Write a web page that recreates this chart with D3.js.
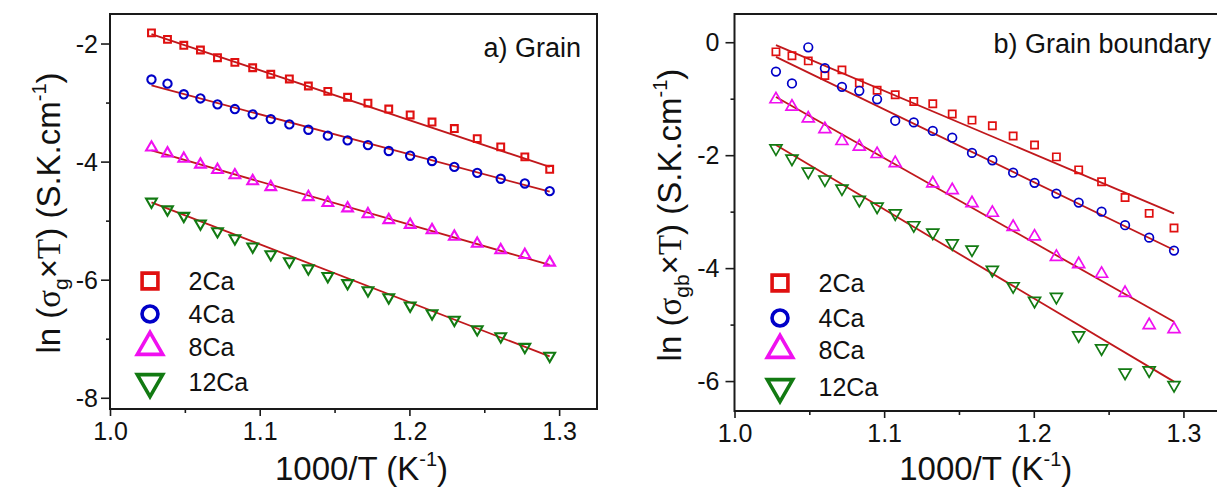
<!DOCTYPE html>
<html>
<head>
<meta charset="utf-8">
<script src="https://cdn.jsdelivr.net/npm/d3@7"></script>
<style>
  body { margin: 0; background: #fff; }
  svg text { font-family: "Liberation Sans", Arial, sans-serif; fill: #111; }
</style>
</head>
<body>
<svg id="chart" width="1217" height="488"></svg>
<script>
// 1000/T values (K^-1), shared by both panels
const invT = [1.0277, 1.0384, 1.0493, 1.0604, 1.0718, 1.0834, 1.0953, 1.1074, 1.1198, 1.1325, 1.1455,
              1.1587, 1.1723, 1.1862, 1.2005, 1.2151, 1.2300, 1.2453, 1.2610, 1.2771, 1.2937];

const seriesNames = ['2Ca', '4Ca', '8Ca', '12Ca'];

// a) Grain
const grain2Ca  = [-1.82, -1.93, -2.03, -2.11, -2.24, -2.32, -2.41, -2.52, -2.60, -2.72, -2.81,
                   -2.91, -3.01, -3.11, -3.21, -3.33, -3.44, -3.61, -3.75, -3.92, -4.13];
const grain4Ca  = [-2.61, -2.68, -2.86, -2.93, -3.03, -3.11, -3.20, -3.28, -3.37, -3.46, -3.56,
                   -3.64, -3.72, -3.82, -3.90, -3.99, -4.09, -4.19, -4.29, -4.37, -4.50];
const grain8Ca  = [-3.76, -3.86, -3.95, -4.05, -4.14, -4.23, -4.33, -4.43, null, -4.60, -4.70,
                   -4.79, -4.89, -4.99, -5.07, -5.16, -5.27, -5.39, -5.50, -5.58, -5.71];
const grain12Ca = [-4.68, -4.81, -4.92, -5.05, -5.18, -5.30, -5.44, -5.57, -5.69, -5.81, -5.94,
                   -6.06, -6.18, -6.30, -6.44, -6.57, -6.68, -6.84, -6.96, -7.14, -7.29];
const grainFitStart = [-1.84, -2.71, -3.81, -4.69];
const grainFitEnd   = [-4.09, -4.51, -5.75, -7.30];

// b) Grain boundary
const gb2Ca  = [-0.17, -0.24, -0.33, -0.59, -0.49, -0.72, -0.85, -0.93, -1.05, -1.09, -1.27,
                -1.38, -1.48, -1.66, -1.82, -2.03, -2.26, -2.47, -2.75, -3.03, -3.29];
const gb4Ca  = [-0.52, -0.73, -0.09, -0.46, -0.79, -0.86, -1.01, -1.39, -1.42, -1.57, -1.69,
                -1.96, -2.09, -2.31, -2.49, -2.68, -2.84, -3.00, -3.24, -3.46, -3.69];
const gb8Ca  = [-1.01, -1.14, -1.35, -1.54, -1.75, -1.85, -1.98, -2.14, null, -2.50, -2.62,
                -2.85, -3.02, -3.27, -3.44, -3.80, -3.93, -4.10, -4.44, -5.01, -5.08];
const gb12Ca = [-1.88, -2.06, -2.29, -2.43, -2.59, -2.79, -2.91, -3.03, -3.24, -3.37, -3.56,
                -3.67, -4.03, -4.32, -4.58, -4.51, -5.19, -5.42, -5.85, -5.81, -6.07];
const gbFitStart = [-0.05, -0.26, -0.97, -1.82];
const gbFitEnd   = [-3.03, -3.68, -4.95, -6.01];

const xTicks = [1.0, 1.1, 1.2, 1.3];
const xMinorTicks = [1.05, 1.15, 1.25];

const colors = ['#e01010', '#0000c8', '#f010f0', '#127a12'];
const fitColor = '#c0181c';
const shapes = [d3.symbolSquare, d3.symbolCircle, d3.symbolTriangle, d3.symbolTriangle];
const rotations = [0, 0, 0, 180];

const svg = d3.select('#chart');

function drawPanel(p) {
    const g = svg.append('g');
    const x = d3.scaleLinear().domain(p.xDomain).range([p.left, p.right]);
    const y = d3.scaleLinear().domain(p.yDomain).range([p.bottom, p.top]);

    // fit lines
    p.series.forEach((vals, i) => {
        g.append('line')
            .attr('x1', x(invT[0])).attr('y1', y(p.fitStart[i]))
            .attr('x2', x(invT[invT.length - 1])).attr('y2', y(p.fitEnd[i]))
            .attr('stroke', fitColor)
            .attr('stroke-width', 1.8);
    });

    // markers
    p.series.forEach((vals, i) => {
        const pts = invT.map((t, j) => ({ t: t, v: vals[j] })).filter(d => d.v !== null);
        g.selectAll('.m' + i)
            .data(pts)
            .enter()
            .append('path')
            .attr('d', d3.symbol().type(shapes[i]).size(p.markSize[i]))
            .attr('transform', d => `translate(${x(d.t)},${y(d.v)}) rotate(${rotations[i]})`)
            .attr('fill', 'none')
            .attr('stroke', colors[i])
            .attr('stroke-width', p.markStroke);
    });

    // frame
    g.append('rect')
        .attr('x', p.left).attr('y', p.top)
        .attr('width', p.right - p.left).attr('height', p.bottom - p.top)
        .attr('fill', 'none')
        .attr('stroke', '#1a1a1a')
        .attr('stroke-width', 2);

    // axes
    const xa = g.append('g')
        .attr('transform', `translate(0,${p.bottom})`)
        .call(d3.axisBottom(x).tickValues(xTicks).tickSize(7).tickSizeOuter(0).tickPadding(6)
            .tickFormat(d3.format('.1f')));
    g.append('g')
        .attr('transform', `translate(0,${p.bottom})`)
        .call(d3.axisBottom(x).tickValues(xMinorTicks).tickSize(4).tickSizeOuter(0).tickFormat(''));

    const ya = g.append('g')
        .attr('transform', `translate(${p.left},0)`)
        .call(d3.axisLeft(y).tickValues(p.yTicks).tickSize(9).tickSizeOuter(0).tickPadding(p.yPad)
            .tickFormat(d => String(d)));
    g.append('g')
        .attr('transform', `translate(${p.left},0)`)
        .call(d3.axisLeft(y).tickValues(p.yMinor).tickSize(4).tickSizeOuter(0).tickFormat(''));

    g.selectAll('.domain').remove();
    g.selectAll('.tick line').attr('stroke', '#1a1a1a').attr('stroke-width', 1.6);
    xa.selectAll('text').attr('font-size', 25).attr('dy', '0.72em').style('fill', '#111');
    ya.selectAll('text').attr('font-size', 25).attr('dy', '0.35em').style('fill', '#111');

    // x title
    const xt = g.append('text')
        .attr('x', (p.left + p.right) / 2 + 8)
        .attr('y', 480)
        .attr('text-anchor', 'middle')
        .attr('font-size', 33);
    xt.append('tspan').text('1000/T (K');
    xt.append('tspan').attr('font-size', 20).attr('dy', -14).text('-1');
    xt.append('tspan').attr('dy', 14).text(')');

    // y title
    const yt = g.append('text')
        .attr('transform', `translate(${p.yTitleX},${p.yTitleY}) rotate(-90)`)
        .attr('text-anchor', 'middle')
        .attr('font-size', 33);
    yt.append('tspan').text('ln (');
    yt.append('tspan').style('font-family', '"Liberation Serif", serif').text('σ');
    yt.append('tspan').attr('font-size', 21).attr('dy', 8).text(p.sub);
    yt.append('tspan').attr('dy', -8).text('×');
    yt.append('tspan').style('font-family', '"Liberation Serif", serif').text('T');
    yt.append('tspan').text(') (S.K.cm');
    yt.append('tspan').attr('font-size', 20).attr('dy', -14).text('-1');
    yt.append('tspan').attr('dy', 14).text(')');

    // panel label
    g.append('text')
        .attr('x', p.labelX).attr('y', p.labelY)
        .attr('text-anchor', 'end')
        .attr('font-size', 27)
        .text(p.label);

    // legend
    seriesNames.forEach((name, i) => {
        const cy = p.legY[i];
        g.append('path')
            .attr('d', d3.symbol().type(shapes[i]).size(p.legSize[i]))
            .attr('transform', `translate(${p.legX},${cy}) rotate(${rotations[i]})`)
            .attr('fill', 'none')
            .attr('stroke', colors[i])
            .attr('stroke-width', 3.6);
        g.append('text')
            .attr('x', p.legX + 38.5)
            .attr('y', cy + 9)
            .attr('font-size', 25)
            .text(name);
    });
}

drawPanel({
    left: 110, right: 597, top: 14, bottom: 409,
    xDomain: [1.0, 1.3253], yDomain: [-8.19, -1.5],
    yTicks: [-8, -6, -4, -2], yMinor: [-7, -5, -3], yPad: 3,
    series: [grain2Ca, grain4Ca, grain8Ca, grain12Ca],
    fitStart: grainFitStart, fitEnd: grainFitEnd,
    markSize: [46, 54, 50, 50], markStroke: 2.1,
    sub: 'g', yTitleX: 60, yTitleY: 213,
    label: 'a) Grain', labelX: 581, labelY: 57,
    legX: 150, legY: [281, 314, 347, 382], legSize: [250, 200, 280, 280]
});

drawPanel({
    left: 734.5, right: 1221, top: 14, bottom: 411,
    xDomain: [1.0, 1.3251], yDomain: [-6.53, 0.5],
    yTicks: [-6, -4, -2, 0], yMinor: [-5, -3, -1], yPad: 6,
    series: [gb2Ca, gb4Ca, gb8Ca, gb12Ca],
    fitStart: gbFitStart, fitEnd: gbFitEnd,
    markSize: [52, 58, 62, 62], markStroke: 1.7,
    sub: 'gb', yTitleX: 681, yTitleY: 215,
    label: 'b) Grain boundary', labelX: 1211, labelY: 53,
    legX: 780, legY: [283, 318, 350, 387], legSize: [250, 200, 280, 280]
});
</script>
</body>
</html>
